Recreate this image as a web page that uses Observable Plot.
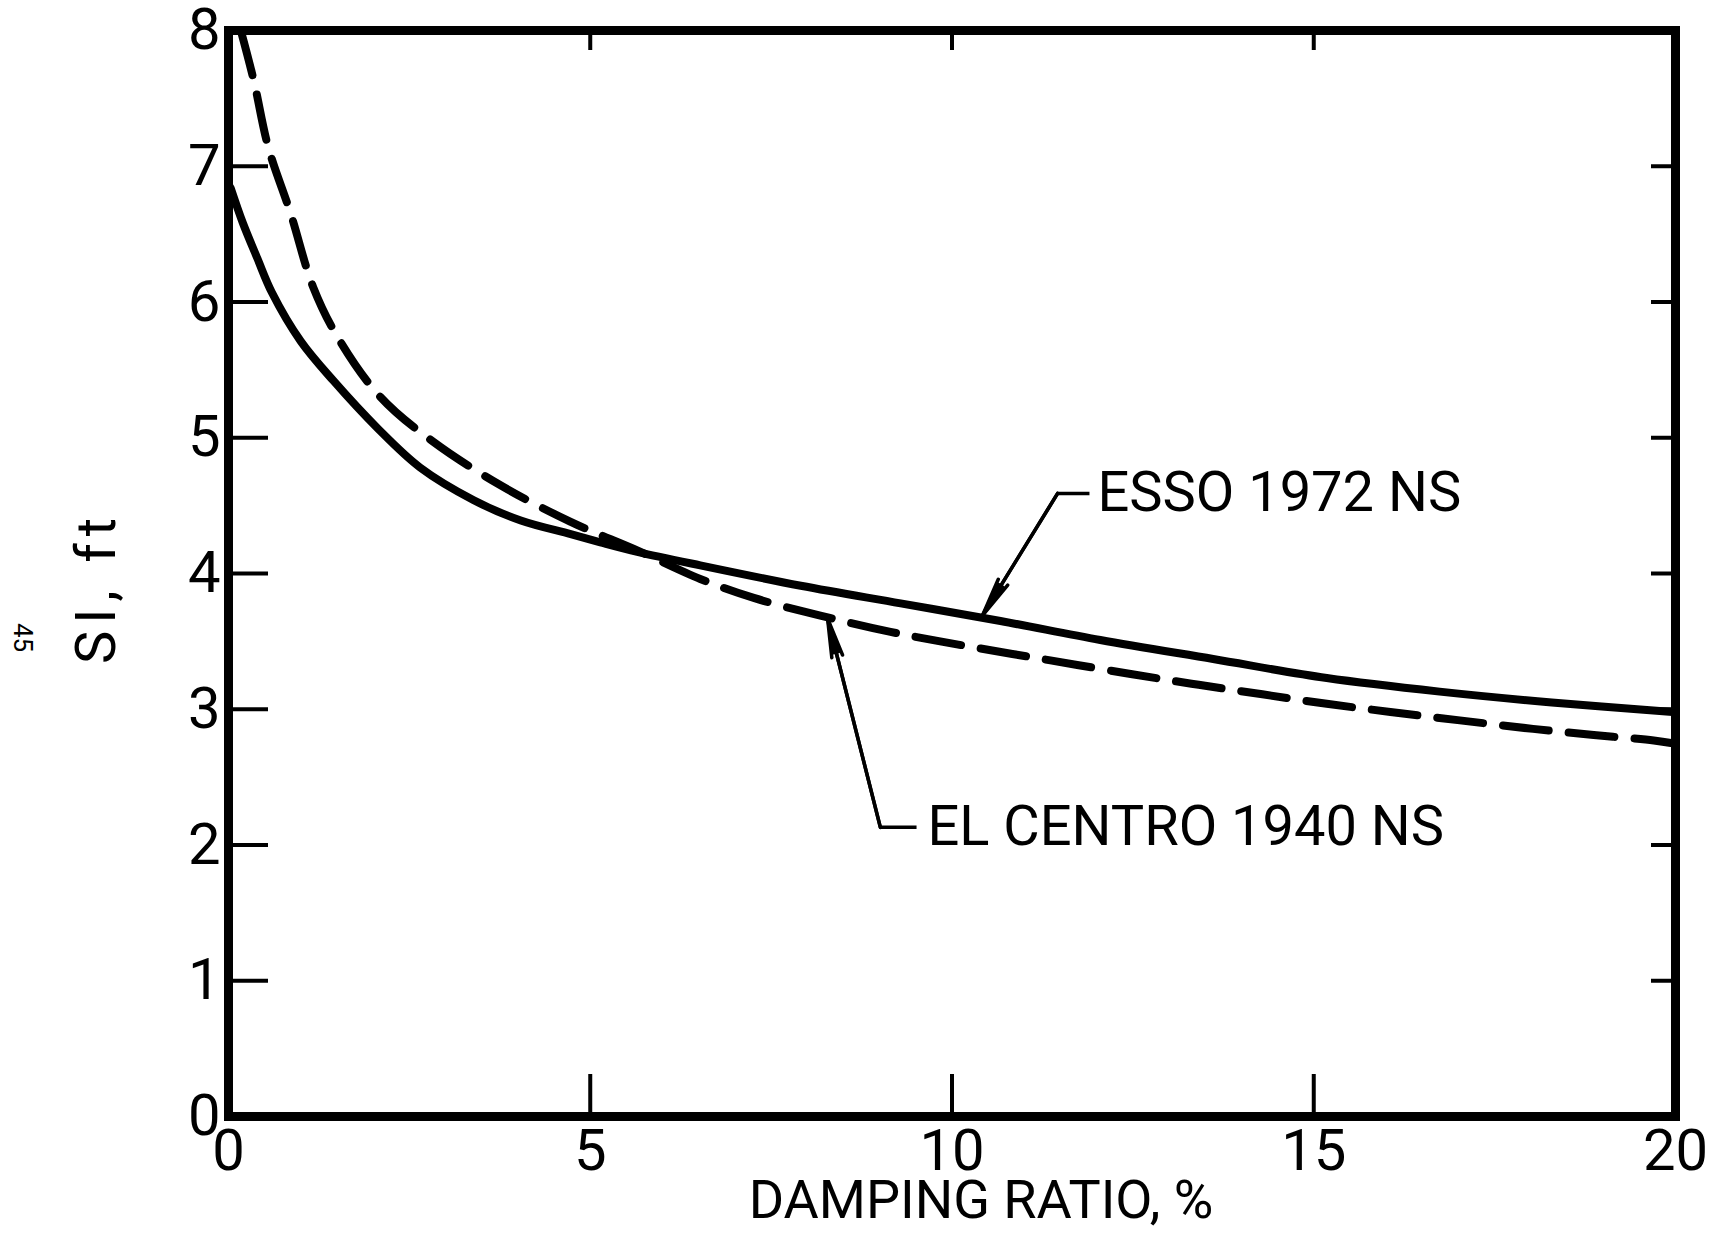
<!DOCTYPE html>
<html>
<head>
<meta charset="utf-8">
<script src="https://cdn.jsdelivr.net/npm/d3@7"></script>
<script src="https://cdn.jsdelivr.net/npm/@observablehq/plot@0.6"></script>
<style>
  html, body { margin: 0; padding: 0; background: #fff; }
  #chart { width: 1721px; height: 1236px; }
  #chart svg { display: block; }
</style>
</head>
<body>
<div id="chart"></div>
<script>
// Spectrum intensity SI (ft) against damping ratio (%) for two records.

// ESSO 1972 NS (solid curve)
const essoDamping = [0.03, 0.20, 0.40, 0.60, 1.0, 1.45, 2.06, 2.65, 3.39, 4.04, 4.73, 5.14, 5.65, 6.52, 7.91, 9.29, 10.67, 12.05, 13.61, 15.18, 16.74, 18.29, 19.96];
const essoSI      = [6.84, 6.58, 6.32, 6.07, 5.71, 5.42, 5.07, 4.78, 4.54, 4.39, 4.29, 4.23, 4.16, 4.06, 3.91, 3.78, 3.65, 3.51, 3.37, 3.23, 3.13, 3.05, 2.98];

// EL CENTRO 1940 NS (dashed curve)
const elCentroDamping = [0.17, 0.35, 0.55, 0.86, 1.17, 1.51, 2.10, 2.83, 3.76, 4.73, 5.65, 6.52, 7.26, 8.18, 9.15, 10.26, 11.36, 12.47, 13.41, 14.29, 15.18, 16.06, 16.99, 17.95, 18.87, 19.70, 19.96];
const elCentroSI      = [8.00, 7.63, 7.14, 6.65, 6.11, 5.74, 5.30, 4.97, 4.65, 4.38, 4.17, 3.96, 3.82, 3.69, 3.57, 3.46, 3.36, 3.26, 3.18, 3.11, 3.04, 2.98, 2.92, 2.86, 2.81, 2.77, 2.75];

// Axis ticks
const xTickValues = [0, 5, 10, 15, 20];
const yTickValues = [0, 1, 2, 3, 4, 5, 6, 7, 8];
const xInnerTicks = [5, 10, 15];
const yInnerTicks = [1, 2, 3, 4, 5, 6, 7];

// Curve labels and their leader lines (data units)
const seriesNames   = ["ESSO 1972 NS", "EL CENTRO 1940 NS"];
const labelX        = [12.01, 9.66];
const labelY        = [4.59, 2.13];
const leaderStartX  = [11.90, 9.51];
const leaderElbowX  = [11.46, 9.01];
const leaderTipX    = [10.42, 8.28];
const leaderTipY    = [3.69, 3.67];

const xTitle = "DAMPING RATIO, %";
const yTitle = "SI, ft";
const pageNumber = "45";

const essoData = essoDamping.map((x, i) => ({x, y: essoSI[i]}));
const elCentroData = elCentroDamping.map((x, i) => ({x, y: elCentroSI[i]}));
const leaders = seriesNames.map((name, i) => ({
  name, x0: leaderStartX[i], xe: leaderElbowX[i], y0: labelY[i], xt: leaderTipX[i], yt: leaderTipY[i]
}));

const W = 1721, H = 1236;
const mL = 228, mR = 46, mT = 30, mB = 120;
const plotW = W - mL - mR, plotH = H - mT - mB;
const FONT = "Roboto, 'Liberation Sans', sans-serif";

const chart = Plot.plot({
  width: W,
  height: H,
  marginLeft: mL,
  marginRight: mR,
  marginTop: mT,
  marginBottom: mB,
  style: {fontFamily: FONT, color: "black", background: "white"},
  x: {domain: [0, 20]},
  y: {domain: [0, 8]},
  marks: [
    // inward tick marks on all four sides
    Plot.ruleY(yInnerTicks, {stroke: "black", strokeWidth: 4, insetRight: plotW - 40}),
    Plot.ruleY(yInnerTicks, {stroke: "black", strokeWidth: 4, insetLeft: plotW - 24}),
    Plot.ruleX(xInnerTicks, {stroke: "black", strokeWidth: 4, insetTop: plotH - 42}),
    Plot.ruleX(xInnerTicks, {stroke: "black", strokeWidth: 4, insetBottom: plotH - 20}),

    // tick labels
    Plot.axisX({ticks: xTickValues, tickSize: 0, tickPadding: 12, fontSize: 58, label: null, tickFormat: d => String(d)}),
    Plot.axisY({ticks: yTickValues, tickSize: 0, tickPadding: 8, fontSize: 58, label: null, tickFormat: d => String(d)}),

    // curves
    Plot.line(essoData, {x: "x", y: "y", stroke: "black", strokeWidth: 8, curve: "catmull-rom", strokeLinecap: "round"}),
    Plot.line(elCentroData, {x: "x", y: "y", stroke: "black", strokeWidth: 8, curve: "catmull-rom", strokeLinecap: "round", strokeDasharray: "46,20"}),

    // leader lines with slender arrowheads
    Plot.link(leaders, {x1: "x0", y1: "y0", x2: "xe", y2: "y0", stroke: "black", strokeWidth: 3.5}),
    Plot.arrow(leaders, {x1: "xe", y1: "y0", x2: "xt", y2: "yt", stroke: "black", strokeWidth: 3.5, headLength: 17, headAngle: 16}),
    Plot.arrow(leaders, {x1: "xe", y1: "y0", x2: "xt", y2: "yt", stroke: "black", strokeWidth: 3.5, headLength: 15, headAngle: 8}),

    // curve labels
    Plot.text(seriesNames, {x: (d, i) => labelX[i], y: (d, i) => labelY[i], text: d => d, textAnchor: "start", lineAnchor: "middle", fontSize: 56, fontFamily: FONT, fill: "black"}),

    // axis titles and page number
    Plot.text([xTitle], {frameAnchor: "bottom", dx: 29, dy: 84, textAnchor: "middle", lineAnchor: "middle", fontSize: 54, fontFamily: FONT, fill: "black"}),
    Plot.text([yTitle], {frameAnchor: "left", dx: -131, dy: 14, rotate: -90, textAnchor: "middle", lineAnchor: "middle", fontSize: 56, fontFamily: FONT, fill: "black"}),
    Plot.text([pageNumber], {frameAnchor: "left", dx: -206, dy: 64, rotate: 90, textAnchor: "middle", lineAnchor: "middle", fontSize: 26, fontFamily: FONT, fill: "black"}),

    // heavy frame
    Plot.frame({stroke: "black", strokeWidth: 9})
  ]
});

document.getElementById("chart").appendChild(chart);
// widen the spacing of the vertical axis title
d3.select(chart).selectAll("text").filter(function () { return this.textContent === yTitle; }).attr("letter-spacing", "7px");
</script>
</body>
</html>
